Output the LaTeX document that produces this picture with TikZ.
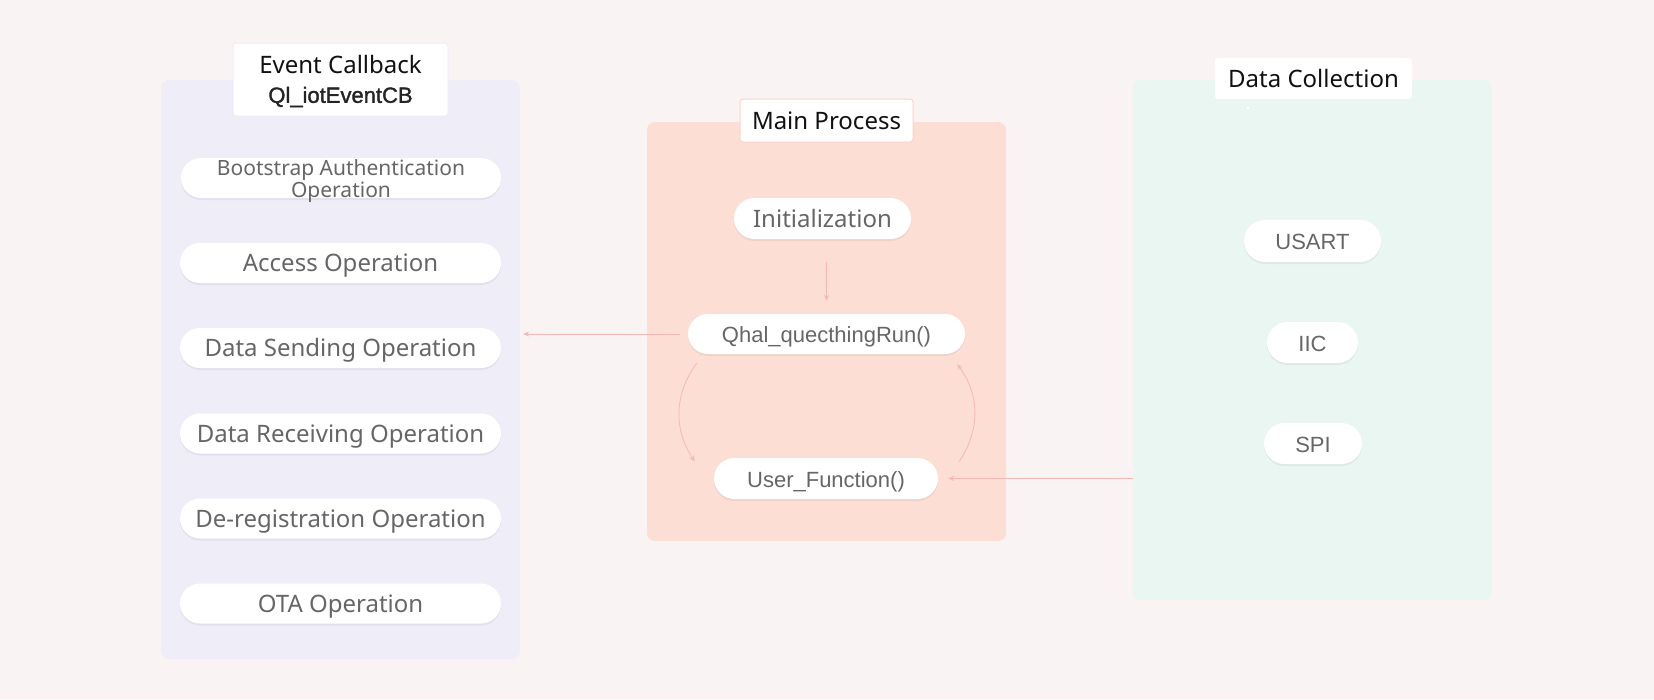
\documentclass[tikz,border=0pt]{standalone}
\usepackage{fontspec}
\setmainfont{Noto Sans}
\newfontfamily\arialf{Liberation Sans}
\newfontfamily\arialm[FakeBold=1.5]{Liberation Sans}
\usetikzlibrary{shapes.misc,arrows.meta,shadows}
\definecolor{bgc}{HTML}{FAF3F3}
\definecolor{lpc}{HTML}{EFEEF8}
\definecolor{mpc}{HTML}{FCDED5}
\definecolor{rpc}{HTML}{EAF6F2}
\definecolor{arrc}{HTML}{F6B8B6}
\definecolor{pilltxt}{HTML}{666666}
\definecolor{lbltxt}{HTML}{111111}
\begin{document}
\begin{tikzpicture}[x=1pt,y=-1pt,
  panel/.style={draw=none,rounded corners=8pt,inner sep=0pt},
  lab/.style={fill=white,rounded corners=3pt,inner sep=0pt,text=lbltxt,
    font=\fontsize{24}{29}\selectfont},
  pill/.style={rounded rectangle,fill=white,inner sep=0pt,text=pilltxt,
    minimum height=40pt,
    drop shadow={shadow xshift=0pt,shadow yshift=-2pt,opacity=0.05,fill=black}},
  opfont/.style={font=\fontsize{24}{29}\selectfont,text height=20pt,text depth=3pt},
  arfont/.style={font=\arialf\fontsize{22}{26}\selectfont,text height=19pt,text depth=2pt},
  arr/.style={draw=arrc,line width=0.8pt,-{Stealth[length=6pt,width=5pt]}}]
\useasboundingbox[fill=bgc] (0,0) rectangle (1654,699);

% panels
\node[panel,fill=lpc,minimum width=359pt,minimum height=579pt] (lp) at (340.5,369.5) {};
\node[panel,fill=mpc,minimum width=359pt,minimum height=419pt] (mp) at (826.5,331.5) {};
\node[panel,fill=rpc,minimum width=359pt,minimum height=520pt] (rp) at (1312.5,340) {};

% labels
\node[lab,draw=lpc,line width=1pt,minimum width=215pt,minimum height=73pt] (ec) at (340.5,79.5) {};
\node[text=lbltxt,inner sep=0pt,font=\fontsize{24}{29}\selectfont] (ect) at ([yshift=-3pt]ec.center)
  {\begin{tabular}{@{}c@{}}Event Callback\\[0pt]{\arialm\fontsize{22}{29}\selectfont\color{lbltxt!92!white}Ql\_iotEventCB}\end{tabular}};
\node[lab,draw=mpc!70!arrc,line width=1pt,minimum width=173pt,minimum height=43pt] (mpl) at (826.5,120.5) {Main Process};
\node[lab,minimum width=197pt,minimum height=41pt] (dcl) at (1313.5,78.5) {Data Collection};
\fill[white] (1247,107) rectangle (1249,109);

% left pills
\node[pill,minimum width=320pt] (p1) at (341,178) {};
\node[text=pilltxt,inner sep=0pt,align=center,font=\fontsize{21}{20}\selectfont] (p1t) at ([yshift=-3pt]p1.center) {Bootstrap Authentication\\Operation};
\node[pill,opfont,minimum width=321pt] (p2) at (340.5,263) {Access Operation};
\node[pill,opfont,minimum width=321pt] (p3) at (340.5,348) {Data Sending Operation};
\node[pill,opfont,minimum width=321pt] (p4) at (340.5,433.5) {Data Receiving Operation};
\node[pill,opfont,minimum width=321pt] (p5) at (340.5,518.5) {De-registration Operation};
\node[pill,opfont,minimum width=321pt] (p6) at (340.5,603.5) {OTA Operation};

% middle pills
\node[pill,opfont,minimum width=177pt,minimum height=41pt] (init) at (822.5,218.5) {Initialization};
\node[pill,arfont,minimum width=277pt] (q) at (826.5,334) {Qhal\_quecthingRun()};
\node[pill,arfont,minimum width=224pt,minimum height=41pt] (uf) at (826,478.5) {User\_Function()};

% right pills
\node[pill,arfont,minimum width=137pt,minimum height=42pt] (us) at (1312.5,241) {USART};
\node[pill,arfont,minimum width=91pt,minimum height=41pt] (iic) at (1312.5,342.5) {IIC};
\node[pill,arfont,minimum width=98pt,minimum height=41pt] (spi) at (1313,443.5) {SPI};

% connectors
\coordinate (i1) at ([yshift=-23pt]init.south);
\coordinate (i2) at ([yshift=13pt]q.north);
\draw[arr] (i1 -| i2) -- (i2);
\coordinate (q1) at ([xshift=-8pt]q.west);
\coordinate (l1) at ([xshift=3pt]lp.east);
\draw[arr] (q1) -- (l1 |- q1);
\coordinate (a1) at ([xshift=9pt,yshift=-29pt]q.west);
\coordinate (a2) at ([xshift=-19pt,yshift=17pt]uf.west);
\draw[arr] (a1) to[bend right=35] (a2);
\coordinate (b1) at ([xshift=21pt,yshift=17pt]uf.east);
\coordinate (b2) at ([xshift=-8pt,yshift=-30pt]q.east);
\draw[arr] (b1) to[bend right=35] (b2);
\coordinate (u1) at ([xshift=10pt]uf.east);
\draw[arr] (rp.west |- u1) -- (u1);
\end{tikzpicture}
\end{document}
